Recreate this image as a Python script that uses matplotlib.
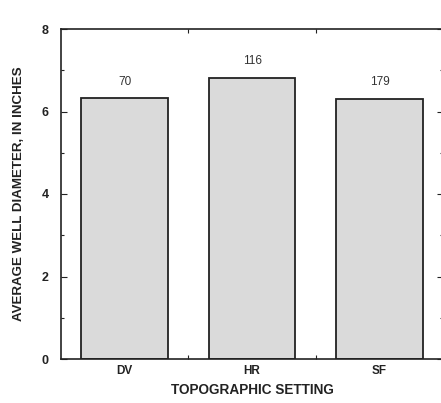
import matplotlib
matplotlib.use("Agg")
import matplotlib.pyplot as plt
from matplotlib.ticker import MultipleLocator

categories = ["DV", "HR", "SF"]
diameters = [6.32, 6.81, 6.30]
counts = ["70", "116", "179"]

plt.rcParams['font.family'] = ['Liberation Sans', 'DejaVu Sans']

fig = plt.figure(figsize=(4.41, 4.03), dpi=100)
ax = fig.add_axes([61/441, 1-359/403, (443.25-61)/441, (359-29)/403])

x = range(len(categories))
ax.bar(x, diameters, width=0.68, color="#dadada", edgecolor="#222222", linewidth=1.3, zorder=2)
for xi, v, c in zip(x, diameters, counts):
    ax.text(xi, v + 0.26, c, ha="center", va="bottom", fontsize=8.5, color="#333333")

ax.set_xlim(-0.5, 2.5)
ax.set_ylim(0, 8)
ax.set_xticks(list(x))
ax.set_xticklabels(categories, fontsize=8.5, fontweight="bold", color="#222222")
ax.set_xticks([0.5, 1.5], minor=True)
ax.yaxis.set_major_locator(MultipleLocator(2))
ax.yaxis.set_minor_locator(MultipleLocator(1))
for lbl in ax.get_yticklabels():
    lbl.set_fontweight("bold")
ax.tick_params(axis="y", which="major", direction="in", length=4, width=0.8, labelsize=9, pad=9, right=True, colors="#222222")
ax.tick_params(axis="y", which="minor", direction="in", length=2.5, width=0.8, right=True, colors="#222222")
ax.tick_params(axis="x", which="major", length=0, pad=4)
ax.tick_params(axis="x", which="minor", direction="in", length=3, width=0.8, top=True, colors="#222222")

for s in ax.spines.values():
    s.set_linewidth(1.2)
    s.set_color("#222222")

ax.set_ylabel("AVERAGE WELL DIAMETER, IN INCHES", fontsize=9.6, fontweight="bold", color="#222222", labelpad=12)
ax.set_xlabel("TOPOGRAPHIC SETTING", fontsize=9.8, fontweight="bold", color="#222222", labelpad=5)

fig.savefig("out.png", dpi=100)
